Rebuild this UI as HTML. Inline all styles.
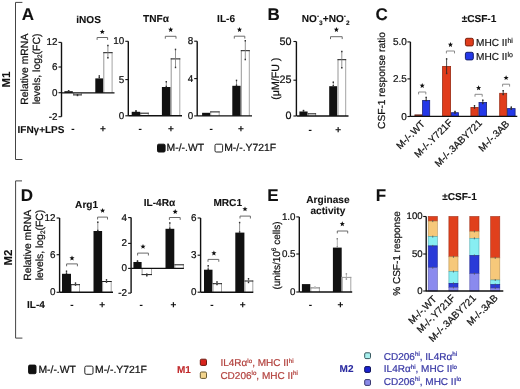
<!DOCTYPE html><html><head><meta charset="utf-8"><style>html,body{margin:0;padding:0;background:#fff;overflow:hidden}svg{display:block;text-rendering:geometricPrecision;filter:blur(0.3px)}</style></head><body>
<svg width="520" height="389" viewBox="0 0 520 389" font-family='"Liberation Sans", sans-serif'>
<rect width="520" height="389" fill="#fff"/>
<path d="M22.4 2.4 L15.5 2.4 L15.5 159.5 L22.4 159.5" fill="none" stroke="#444" stroke-width="1"/>
<path d="M22 180.9 L15.6 180.9 L15.6 338.1 L22.4 338.1" fill="none" stroke="#444" stroke-width="1"/>
<text x="10.0" y="79.5" font-size="11.5" font-weight="bold" text-anchor="middle" fill="#111" stroke="#111" stroke-width="0.1" transform="rotate(-90 10.0 79.5)">M1</text>
<text x="11.6" y="257.5" font-size="11.5" font-weight="bold" text-anchor="middle" fill="#111" stroke="#111" stroke-width="0.1" transform="rotate(-90 11.6 257.5)">M2</text>
<text x="21.7" y="20.0" font-size="17" font-weight="bold" text-anchor="start" fill="#111" stroke="#111" stroke-width="0.1">A</text>
<text x="267.6" y="19.8" font-size="17" font-weight="bold" text-anchor="start" fill="#111" stroke="#111" stroke-width="0.1">B</text>
<text x="375.5" y="20.0" font-size="17" font-weight="bold" text-anchor="start" fill="#111" stroke="#111" stroke-width="0.1">C</text>
<text x="20.8" y="201.2" font-size="17" font-weight="bold" text-anchor="start" fill="#111" stroke="#111" stroke-width="0.1">D</text>
<text x="267.2" y="201.0" font-size="17" font-weight="bold" text-anchor="start" fill="#111" stroke="#111" stroke-width="0.1">E</text>
<text x="375.8" y="201.0" font-size="17" font-weight="bold" text-anchor="start" fill="#111" stroke="#111" stroke-width="0.1">F</text>
<text x="28.2" y="69.2" font-size="10.4" font-weight="normal" text-anchor="middle" fill="#111" stroke="#111" stroke-width="0.22" transform="rotate(-90 28.2 69.2)">Relative mRNA</text>
<text x="40.2" y="68.9" font-size="10.4" font-weight="normal" text-anchor="middle" fill="#111" stroke="#111" stroke-width="0.22" transform="rotate(-90 40.2 68.9)">levels, log<tspan font-size="6.5" dy="2">2</tspan><tspan dy="-2">(FC)</tspan></text>
<text x="17.5" y="133.3" font-size="10" font-weight="bold" text-anchor="start" fill="#111" stroke="#111" stroke-width="0.1">IFN&#947;+LPS</text>
<text x="88.6" y="22.6" font-size="10.1" font-weight="bold" text-anchor="middle" fill="#111" stroke="#111" stroke-width="0.1">iNOS</text>
<line x1="61.5" y1="42.4" x2="61.5" y2="116.7" stroke="#111" stroke-width="1.4"/>
<line x1="58.5" y1="42.4" x2="61.5" y2="42.4" stroke="#111" stroke-width="1.1"/>
<text x="57.5" y="45.37" font-size="9.9" font-weight="normal" text-anchor="end" fill="#111" stroke="#111" stroke-width="0.22">12</text>
<line x1="58.5" y1="67" x2="61.5" y2="67" stroke="#111" stroke-width="1.1"/>
<text x="57.5" y="69.97" font-size="9.9" font-weight="normal" text-anchor="end" fill="#111" stroke="#111" stroke-width="0.22">6</text>
<line x1="58.5" y1="92.7" x2="61.5" y2="92.7" stroke="#111" stroke-width="1.1"/>
<text x="57.5" y="95.67" font-size="9.9" font-weight="normal" text-anchor="end" fill="#111" stroke="#111" stroke-width="0.22">0</text>
<line x1="58.5" y1="116.7" x2="61.5" y2="116.7" stroke="#111" stroke-width="1.1"/>
<text x="57.5" y="119.67" font-size="9.9" font-weight="normal" text-anchor="end" fill="#111" stroke="#111" stroke-width="0.22">-2</text>
<rect x="64.4" y="91.2" width="8.399999999999991" height="1.7000000000000028" fill="#111"/>
<rect x="73.2" y="92.9" width="8.599999999999994" height="2.5" fill="#fff"/>
<line x1="73.7" y1="92.9" x2="73.7" y2="95.4" stroke="#8a8a8a" stroke-width="0.9"/>
<line x1="81.3" y1="92.9" x2="81.3" y2="95.4" stroke="#9a9a9a" stroke-width="0.9"/>
<line x1="73.2" y1="94.9" x2="81.8" y2="94.9" stroke="#1a1a1a" stroke-width="1.0"/>
<rect x="95.3" y="78.4" width="8.0" height="14.5" fill="#111"/>
<rect x="103.3" y="52.2" width="9.299999999999997" height="40.7" fill="#fff"/>
<line x1="103.8" y1="52.2" x2="103.8" y2="92.9" stroke="#8a8a8a" stroke-width="0.9"/>
<line x1="112.1" y1="52.2" x2="112.1" y2="92.9" stroke="#9a9a9a" stroke-width="0.9"/>
<line x1="103.3" y1="52.7" x2="112.6" y2="52.7" stroke="#1a1a1a" stroke-width="1.0"/>
<line x1="61.5" y1="92.9" x2="114.5" y2="92.9" stroke="#111" stroke-width="1.4"/>
<line x1="99.3" y1="75.4" x2="99.3" y2="78.4" stroke="#777" stroke-width="0.8"/>
<line x1="99.3" y1="75.2" x2="99.3" y2="76.7" stroke="#333" stroke-width="1.4"/>
<line x1="99.3" y1="77.10000000000001" x2="99.3" y2="78.60000000000001" stroke="#333" stroke-width="1.4"/>
<line x1="107.9" y1="45" x2="107.9" y2="58.4" stroke="#777" stroke-width="0.8"/>
<line x1="107.9" y1="44.8" x2="107.9" y2="46.3" stroke="#333" stroke-width="1.4"/>
<line x1="107.9" y1="57.1" x2="107.9" y2="58.6" stroke="#333" stroke-width="1.4"/>
<line x1="68.6" y1="90.3" x2="68.6" y2="91.5" stroke="#777" stroke-width="0.8"/>
<line x1="68.6" y1="90.1" x2="68.6" y2="91.6" stroke="#333" stroke-width="1.4"/>
<line x1="68.6" y1="90.2" x2="68.6" y2="91.7" stroke="#333" stroke-width="1.4"/>
<line x1="77.5" y1="94.2" x2="77.5" y2="96.0" stroke="#777" stroke-width="0.8"/>
<line x1="77.5" y1="94.0" x2="77.5" y2="95.5" stroke="#333" stroke-width="1.4"/>
<line x1="77.5" y1="94.7" x2="77.5" y2="96.2" stroke="#333" stroke-width="1.4"/>
<path d="M97.1 39.9 L97.1 37.5 L107.6 37.5 L107.6 39.9" fill="none" stroke="#6a6a6a" stroke-width="1"/>
<polygon points="102.30,29.20 103.01,30.93 104.87,31.07 103.44,32.27 103.89,34.08 102.30,33.10 100.71,34.08 101.16,32.27 99.73,31.07 101.59,30.93" fill="#111"/>
<text x="72.8" y="131.5" font-size="10" font-weight="bold" text-anchor="middle" fill="#111" stroke="#111" stroke-width="0.1">-</text>
<text x="102.8" y="131.5" font-size="10" font-weight="bold" text-anchor="middle" fill="#111" stroke="#111" stroke-width="0.1">+</text>
<text x="156" y="21.9" font-size="10.1" font-weight="bold" text-anchor="middle" fill="#111" stroke="#111" stroke-width="0.1">TNF&#945;</text>
<line x1="128.3" y1="41.3" x2="128.3" y2="115.8" stroke="#111" stroke-width="1.4"/>
<line x1="125.30000000000001" y1="41.3" x2="128.3" y2="41.3" stroke="#111" stroke-width="1.1"/>
<text x="124.30000000000001" y="44.269999999999996" font-size="9.9" font-weight="normal" text-anchor="end" fill="#111" stroke="#111" stroke-width="0.22">10</text>
<line x1="125.30000000000001" y1="79.6" x2="128.3" y2="79.6" stroke="#111" stroke-width="1.1"/>
<text x="124.30000000000001" y="82.57" font-size="9.9" font-weight="normal" text-anchor="end" fill="#111" stroke="#111" stroke-width="0.22">5</text>
<line x1="125.30000000000001" y1="115.8" x2="128.3" y2="115.8" stroke="#111" stroke-width="1.1"/>
<text x="124.30000000000001" y="118.77" font-size="9.9" font-weight="normal" text-anchor="end" fill="#111" stroke="#111" stroke-width="0.22">0</text>
<rect x="131.7" y="111.8" width="8.5" height="4.0" fill="#111"/>
<rect x="140.2" y="112.7" width="8.600000000000023" height="3.0999999999999943" fill="#fff"/>
<line x1="140.7" y1="112.7" x2="140.7" y2="115.8" stroke="#8a8a8a" stroke-width="0.9"/>
<line x1="148.3" y1="112.7" x2="148.3" y2="115.8" stroke="#9a9a9a" stroke-width="0.9"/>
<line x1="140.2" y1="113.2" x2="148.8" y2="113.2" stroke="#1a1a1a" stroke-width="1.0"/>
<rect x="161.9" y="87" width="8.799999999999983" height="28.799999999999997" fill="#111"/>
<rect x="170.7" y="58.4" width="9.600000000000023" height="57.4" fill="#fff"/>
<line x1="171.2" y1="58.4" x2="171.2" y2="115.8" stroke="#8a8a8a" stroke-width="0.9"/>
<line x1="179.8" y1="58.4" x2="179.8" y2="115.8" stroke="#9a9a9a" stroke-width="0.9"/>
<line x1="170.7" y1="58.9" x2="180.3" y2="58.9" stroke="#1a1a1a" stroke-width="1.0"/>
<line x1="128.3" y1="115.8" x2="182" y2="115.8" stroke="#111" stroke-width="1.4"/>
<line x1="166.3" y1="81.2" x2="166.3" y2="87" stroke="#777" stroke-width="0.8"/>
<line x1="166.3" y1="81.0" x2="166.3" y2="82.5" stroke="#333" stroke-width="1.4"/>
<line x1="166.3" y1="85.7" x2="166.3" y2="87.2" stroke="#333" stroke-width="1.4"/>
<line x1="175.5" y1="48.9" x2="175.5" y2="68" stroke="#777" stroke-width="0.8"/>
<line x1="175.5" y1="48.699999999999996" x2="175.5" y2="50.199999999999996" stroke="#333" stroke-width="1.4"/>
<line x1="175.5" y1="66.7" x2="175.5" y2="68.2" stroke="#333" stroke-width="1.4"/>
<line x1="136" y1="110.5" x2="136" y2="111.8" stroke="#777" stroke-width="0.8"/>
<line x1="136" y1="110.3" x2="136" y2="111.8" stroke="#333" stroke-width="1.4"/>
<line x1="136" y1="110.5" x2="136" y2="112.0" stroke="#333" stroke-width="1.4"/>
<path d="M165.3 38.699999999999996 L165.3 36.3 L176 36.3 L176 38.699999999999996" fill="none" stroke="#6a6a6a" stroke-width="1"/>
<polygon points="170.70,27.00 171.41,28.73 173.27,28.87 171.84,30.07 172.29,31.88 170.70,30.90 169.11,31.88 169.56,30.07 168.13,28.87 169.99,28.73" fill="#111"/>
<text x="140.2" y="131.9" font-size="10" font-weight="bold" text-anchor="middle" fill="#111" stroke="#111" stroke-width="0.1">-</text>
<text x="171" y="131.9" font-size="10" font-weight="bold" text-anchor="middle" fill="#111" stroke="#111" stroke-width="0.1">+</text>
<text x="226.1" y="21.9" font-size="10.1" font-weight="bold" text-anchor="middle" fill="#111" stroke="#111" stroke-width="0.1">IL-6</text>
<line x1="197.2" y1="41.2" x2="197.2" y2="115.9" stroke="#111" stroke-width="1.4"/>
<line x1="194.2" y1="41.2" x2="197.2" y2="41.2" stroke="#111" stroke-width="1.1"/>
<text x="193.2" y="44.17" font-size="9.9" font-weight="normal" text-anchor="end" fill="#111" stroke="#111" stroke-width="0.22">8</text>
<line x1="194.2" y1="78.6" x2="197.2" y2="78.6" stroke="#111" stroke-width="1.1"/>
<text x="193.2" y="81.57" font-size="9.9" font-weight="normal" text-anchor="end" fill="#111" stroke="#111" stroke-width="0.22">4</text>
<line x1="194.2" y1="115.9" x2="197.2" y2="115.9" stroke="#111" stroke-width="1.1"/>
<text x="193.2" y="118.87" font-size="9.9" font-weight="normal" text-anchor="end" fill="#111" stroke="#111" stroke-width="0.22">0</text>
<rect x="202.1" y="112.8" width="8.099999999999994" height="3.1000000000000085" fill="#111"/>
<rect x="210.2" y="111.4" width="9.5" height="4.5" fill="#fff"/>
<line x1="210.7" y1="111.4" x2="210.7" y2="115.9" stroke="#8a8a8a" stroke-width="0.9"/>
<line x1="219.2" y1="111.4" x2="219.2" y2="115.9" stroke="#9a9a9a" stroke-width="0.9"/>
<line x1="210.2" y1="111.9" x2="219.7" y2="111.9" stroke="#1a1a1a" stroke-width="1.0"/>
<rect x="232.3" y="85.8" width="8.5" height="30.10000000000001" fill="#111"/>
<rect x="240.8" y="50.2" width="9.0" height="65.7" fill="#fff"/>
<line x1="241.3" y1="50.2" x2="241.3" y2="115.9" stroke="#8a8a8a" stroke-width="0.9"/>
<line x1="249.3" y1="50.2" x2="249.3" y2="115.9" stroke="#9a9a9a" stroke-width="0.9"/>
<line x1="240.8" y1="50.7" x2="249.8" y2="50.7" stroke="#1a1a1a" stroke-width="1.0"/>
<line x1="197.2" y1="115.9" x2="252" y2="115.9" stroke="#111" stroke-width="1.4"/>
<line x1="236.5" y1="79.9" x2="236.5" y2="85.8" stroke="#777" stroke-width="0.8"/>
<line x1="236.5" y1="79.7" x2="236.5" y2="81.2" stroke="#333" stroke-width="1.4"/>
<line x1="236.5" y1="84.5" x2="236.5" y2="86.0" stroke="#333" stroke-width="1.4"/>
<line x1="245.3" y1="40.3" x2="245.3" y2="60.1" stroke="#777" stroke-width="0.8"/>
<line x1="245.3" y1="40.099999999999994" x2="245.3" y2="41.599999999999994" stroke="#333" stroke-width="1.4"/>
<line x1="245.3" y1="58.800000000000004" x2="245.3" y2="60.300000000000004" stroke="#333" stroke-width="1.4"/>
<path d="M234.3 38.6 L234.3 36.2 L244.8 36.2 L244.8 38.6" fill="none" stroke="#6a6a6a" stroke-width="1"/>
<polygon points="239.50,27.00 240.21,28.73 242.07,28.87 240.64,30.07 241.09,31.88 239.50,30.90 237.91,31.88 238.36,30.07 236.93,28.87 238.79,28.73" fill="#111"/>
<text x="211.1" y="132.0" font-size="10" font-weight="bold" text-anchor="middle" fill="#111" stroke="#111" stroke-width="0.1">-</text>
<text x="240.8" y="132.0" font-size="10" font-weight="bold" text-anchor="middle" fill="#111" stroke="#111" stroke-width="0.1">+</text>
<rect x="157.5" y="144.2" width="7.6" height="7.8" fill="#111" stroke="#111" stroke-width="1" rx="1.2"/>
<text x="166.6" y="151.4" font-size="10.4" font-weight="normal" text-anchor="start" fill="#111" stroke="#111" stroke-width="0.22">M-/-.WT</text>
<rect x="215" y="144.2" width="7.6" height="7.8" fill="#fff" stroke="#222" stroke-width="1" rx="1.2"/>
<text x="224.2" y="151.4" font-size="10.4" font-weight="normal" text-anchor="start" fill="#111" stroke="#111" stroke-width="0.22">M-/-.Y721F</text>
<text x="325.7" y="21.9" font-size="10.1" font-weight="bold" text-anchor="middle" fill="#111" stroke="#111" stroke-width="0.1">NO<tspan font-size="6.5" dy="-3.5">-</tspan><tspan font-size="6.5" dy="6.5">3</tspan><tspan dy="-3">+NO</tspan><tspan font-size="6.5" dy="-3.5">-</tspan><tspan font-size="6.5" dy="6.5">2</tspan></text>
<text x="278.6" y="78.7" font-size="10.6" font-weight="normal" text-anchor="middle" fill="#111" stroke="#111" stroke-width="0.22" transform="rotate(-90 278.6 78.7)">(&#956;M/FU )</text>
<line x1="296.4" y1="41.5" x2="296.4" y2="116" stroke="#111" stroke-width="1.4"/>
<line x1="293.4" y1="41.5" x2="296.4" y2="41.5" stroke="#111" stroke-width="1.1"/>
<text x="291.4" y="44.74" font-size="10.8" font-weight="normal" text-anchor="end" fill="#111" stroke="#111" stroke-width="0.22">50</text>
<line x1="293.4" y1="80.2" x2="296.4" y2="80.2" stroke="#111" stroke-width="1.1"/>
<text x="291.4" y="83.44" font-size="10.8" font-weight="normal" text-anchor="end" fill="#111" stroke="#111" stroke-width="0.22">25</text>
<line x1="293.4" y1="116" x2="296.4" y2="116" stroke="#111" stroke-width="1.1"/>
<text x="291.4" y="119.24" font-size="10.8" font-weight="normal" text-anchor="end" fill="#111" stroke="#111" stroke-width="0.22">0</text>
<rect x="299.4" y="111.5" width="8.200000000000045" height="4.5" fill="#111"/>
<rect x="307.6" y="113.3" width="8.5" height="2.700000000000003" fill="#fff"/>
<line x1="308.1" y1="113.3" x2="308.1" y2="116" stroke="#8a8a8a" stroke-width="0.9"/>
<line x1="315.6" y1="113.3" x2="315.6" y2="116" stroke="#9a9a9a" stroke-width="0.9"/>
<line x1="307.6" y1="113.8" x2="316.1" y2="113.8" stroke="#1a1a1a" stroke-width="1.0"/>
<rect x="329.2" y="86.2" width="8.100000000000023" height="29.799999999999997" fill="#111"/>
<rect x="337.5" y="59.2" width="8.699999999999989" height="56.8" fill="#fff"/>
<line x1="338.0" y1="59.2" x2="338.0" y2="116" stroke="#8a8a8a" stroke-width="0.9"/>
<line x1="345.7" y1="59.2" x2="345.7" y2="116" stroke="#9a9a9a" stroke-width="0.9"/>
<line x1="337.5" y1="59.7" x2="346.2" y2="59.7" stroke="#1a1a1a" stroke-width="1.0"/>
<line x1="296.7" y1="116" x2="348.5" y2="116" stroke="#111" stroke-width="1.4"/>
<line x1="333.3" y1="81.7" x2="333.3" y2="86.2" stroke="#777" stroke-width="0.8"/>
<line x1="333.3" y1="81.5" x2="333.3" y2="83.0" stroke="#333" stroke-width="1.4"/>
<line x1="333.3" y1="84.9" x2="333.3" y2="86.4" stroke="#333" stroke-width="1.4"/>
<line x1="341.8" y1="51" x2="341.8" y2="68.2" stroke="#777" stroke-width="0.8"/>
<line x1="341.8" y1="50.8" x2="341.8" y2="52.3" stroke="#333" stroke-width="1.4"/>
<line x1="341.8" y1="66.9" x2="341.8" y2="68.4" stroke="#333" stroke-width="1.4"/>
<line x1="303.5" y1="110" x2="303.5" y2="111.5" stroke="#777" stroke-width="0.8"/>
<line x1="303.5" y1="109.8" x2="303.5" y2="111.3" stroke="#333" stroke-width="1.4"/>
<line x1="303.5" y1="110.2" x2="303.5" y2="111.7" stroke="#333" stroke-width="1.4"/>
<path d="M330.5 39.1 L330.5 36.7 L342.2 36.7 L342.2 39.1" fill="none" stroke="#6a6a6a" stroke-width="1"/>
<polygon points="336.40,27.00 337.11,28.73 338.97,28.87 337.54,30.07 337.99,31.88 336.40,30.90 334.81,31.88 335.26,30.07 333.83,28.87 335.69,28.73" fill="#111"/>
<text x="310.2" y="133.0" font-size="10" font-weight="bold" text-anchor="middle" fill="#111" stroke="#111" stroke-width="0.1">-</text>
<text x="338.2" y="133.0" font-size="10" font-weight="bold" text-anchor="middle" fill="#111" stroke="#111" stroke-width="0.1">+</text>
<text x="479" y="21.9" font-size="10.1" font-weight="bold" text-anchor="middle" fill="#111" stroke="#111" stroke-width="0.1">&#177;CSF-1</text>
<text x="384.8" y="80.5" font-size="10.2" font-weight="normal" text-anchor="middle" fill="#111" stroke="#111" stroke-width="0.22" transform="rotate(-90 384.8 80.5)">CSF-1 response ratio</text>
<line x1="410.4" y1="41.9" x2="410.4" y2="116.5" stroke="#111" stroke-width="1.4"/>
<line x1="407.4" y1="41.9" x2="410.4" y2="41.9" stroke="#111" stroke-width="1.1"/>
<text x="406.79999999999995" y="44.9" font-size="10" font-weight="normal" text-anchor="end" fill="#111" stroke="#111" stroke-width="0.22">5.0</text>
<line x1="407.4" y1="78.9" x2="410.4" y2="78.9" stroke="#111" stroke-width="1.1"/>
<text x="406.79999999999995" y="81.9" font-size="10" font-weight="normal" text-anchor="end" fill="#111" stroke="#111" stroke-width="0.22">2.5</text>
<line x1="407.4" y1="116.5" x2="410.4" y2="116.5" stroke="#111" stroke-width="1.1"/>
<text x="406.79999999999995" y="119.5" font-size="10" font-weight="normal" text-anchor="end" fill="#111" stroke="#111" stroke-width="0.22">0</text>
<rect x="414.9" y="114.9" width="6.899999999999989" height="1.5000000000000058" fill="#8a3020" stroke="#5a1a10" stroke-width="0.8"/>
<rect x="422.59999999999997" y="100.4" width="7.100000000000034" height="16.000000000000007" fill="#2438e8" stroke="#1a237a" stroke-width="0.8"/>
<rect x="442.59999999999997" y="66.4" width="8.00000000000001" height="50.00000000000001" fill="#e03c1c" stroke="#9a2a12" stroke-width="0.8"/>
<rect x="451.4" y="112.7" width="7.0000000000000115" height="3.7000000000000086" fill="#2438e8" stroke="#1a237a" stroke-width="0.8"/>
<rect x="470.9" y="107.4" width="7.300000000000023" height="9.000000000000005" fill="#e03c1c" stroke="#9a2a12" stroke-width="0.8"/>
<rect x="479.0" y="102.4" width="7.599999999999977" height="14.000000000000005" fill="#2438e8" stroke="#1a237a" stroke-width="0.8"/>
<rect x="499.7" y="93.30000000000001" width="7.0000000000000115" height="23.1" fill="#e03c1c" stroke="#9a2a12" stroke-width="0.8"/>
<rect x="507.5" y="108.60000000000001" width="7.599999999999977" height="7.8000000000000025" fill="#2438e8" stroke="#1a237a" stroke-width="0.8"/>
<line x1="410.2" y1="116.4" x2="517.3" y2="116.4" stroke="#111" stroke-width="1.4"/>
<line x1="426.2" y1="96.9" x2="426.2" y2="101" stroke="#222" stroke-width="0.8"/>
<line x1="426.2" y1="96.7" x2="426.2" y2="98.2" stroke="#333" stroke-width="1.4"/>
<line x1="426.2" y1="99.7" x2="426.2" y2="101.2" stroke="#333" stroke-width="1.4"/>
<line x1="446.6" y1="58.4" x2="446.6" y2="74" stroke="#222" stroke-width="0.8"/>
<line x1="446.6" y1="58.199999999999996" x2="446.6" y2="59.699999999999996" stroke="#333" stroke-width="1.4"/>
<line x1="446.6" y1="72.7" x2="446.6" y2="74.2" stroke="#333" stroke-width="1.4"/>
<line x1="503.2" y1="90.1" x2="503.2" y2="95" stroke="#222" stroke-width="0.8"/>
<line x1="503.2" y1="89.89999999999999" x2="503.2" y2="91.39999999999999" stroke="#333" stroke-width="1.4"/>
<line x1="503.2" y1="93.7" x2="503.2" y2="95.2" stroke="#333" stroke-width="1.4"/>
<line x1="482.8" y1="99.8" x2="482.8" y2="104" stroke="#222" stroke-width="0.8"/>
<line x1="482.8" y1="99.6" x2="482.8" y2="101.1" stroke="#333" stroke-width="1.4"/>
<line x1="482.8" y1="102.7" x2="482.8" y2="104.2" stroke="#333" stroke-width="1.4"/>
<line x1="474.5" y1="105.2" x2="474.5" y2="108.5" stroke="#222" stroke-width="0.8"/>
<line x1="474.5" y1="105.0" x2="474.5" y2="106.5" stroke="#333" stroke-width="1.4"/>
<line x1="474.5" y1="107.2" x2="474.5" y2="108.7" stroke="#333" stroke-width="1.4"/>
<line x1="455" y1="111" x2="455" y2="113.5" stroke="#222" stroke-width="0.8"/>
<line x1="455" y1="110.8" x2="455" y2="112.3" stroke="#333" stroke-width="1.4"/>
<line x1="455" y1="112.2" x2="455" y2="113.7" stroke="#333" stroke-width="1.4"/>
<line x1="511.3" y1="106.6" x2="511.3" y2="109.8" stroke="#222" stroke-width="0.8"/>
<line x1="511.3" y1="106.39999999999999" x2="511.3" y2="107.89999999999999" stroke="#333" stroke-width="1.4"/>
<line x1="511.3" y1="108.5" x2="511.3" y2="110.0" stroke="#333" stroke-width="1.4"/>
<path d="M418.6 94.4 L418.6 92 L425.8 92 L425.8 94.4" fill="none" stroke="#8a8a8a" stroke-width="1"/>
<polygon points="422.20,83.00 422.91,84.73 424.77,84.87 423.34,86.07 423.79,87.88 422.20,86.90 420.61,87.88 421.06,86.07 419.63,84.87 421.49,84.73" fill="#111"/>
<path d="M446.4 53.4 L446.4 51 L454.5 51 L454.5 53.4" fill="none" stroke="#8a8a8a" stroke-width="1"/>
<polygon points="450.45,42.00 451.16,43.73 453.02,43.87 451.59,45.07 452.04,46.88 450.45,45.90 448.86,46.88 449.31,45.07 447.88,43.87 449.74,43.73" fill="#111"/>
<path d="M475 96.7 L475 94.3 L482.2 94.3 L482.2 96.7" fill="none" stroke="#8a8a8a" stroke-width="1"/>
<polygon points="478.60,85.30 479.31,87.03 481.17,87.17 479.74,88.37 480.19,90.18 478.60,89.20 477.01,90.18 477.46,88.37 476.03,87.17 477.89,87.03" fill="#111"/>
<path d="M502.6 86.60000000000001 L502.6 84.2 L509.6 84.2 L509.6 86.60000000000001" fill="none" stroke="#8a8a8a" stroke-width="1"/>
<polygon points="506.10,75.20 506.81,76.93 508.67,77.07 507.24,78.27 507.69,80.08 506.10,79.10 504.51,80.08 504.96,78.27 503.53,77.07 505.39,76.93" fill="#111"/>
<rect x="465.4" y="38.3" width="7.9" height="7.6" fill="#e03c1c" stroke="#7a1e0c" stroke-width="1" rx="1.5"/>
<rect x="465.4" y="52.3" width="7.9" height="7.6" fill="#2438e8" stroke="#151f6a" stroke-width="1" rx="1.5"/>
<text x="476" y="45.9" font-size="10.1" font-weight="normal" text-anchor="start" fill="#222" stroke="#222" stroke-width="0.22">MHC II<tspan font-size="7" dy="-3.4">hi</tspan></text>
<text x="476" y="59.9" font-size="10.1" font-weight="normal" text-anchor="start" fill="#222" stroke="#222" stroke-width="0.22">MHC II<tspan font-size="7" dy="-3.4">lo</tspan></text>
<text x="425.5" y="124.6" font-size="9.9" font-weight="normal" text-anchor="end" fill="#111" stroke="#111" stroke-width="0.22" transform="rotate(-45 425.5 124.6)">M-/-.WT</text>
<text x="453.2" y="123.3" font-size="9.9" font-weight="normal" text-anchor="end" fill="#111" stroke="#111" stroke-width="0.22" transform="rotate(-45 453.2 123.3)">M-/-.Y721F</text>
<text x="482.6" y="123.6" font-size="9.9" font-weight="normal" text-anchor="end" fill="#111" stroke="#111" stroke-width="0.22" transform="rotate(-45 482.6 123.6)">M-/-.3ABY721</text>
<text x="510" y="124.6" font-size="9.9" font-weight="normal" text-anchor="end" fill="#111" stroke="#111" stroke-width="0.22" transform="rotate(-45 510 124.6)">M-/-.3AB</text>
<text x="30.6" y="245.3" font-size="10.4" font-weight="normal" text-anchor="middle" fill="#111" stroke="#111" stroke-width="0.22" transform="rotate(-90 30.6 245.3)">Relative mRNA</text>
<text x="42.6" y="245.0" font-size="10.4" font-weight="normal" text-anchor="middle" fill="#111" stroke="#111" stroke-width="0.22" transform="rotate(-90 42.6 245.0)">levels, log<tspan font-size="6.5" dy="2">2</tspan><tspan dy="-2">(FC)</tspan></text>
<text x="27.1" y="307.5" font-size="10" font-weight="bold" text-anchor="start" fill="#111" stroke="#111" stroke-width="0.1">IL-4</text>
<text x="86.6" y="207.5" font-size="10.1" font-weight="bold" text-anchor="middle" fill="#111" stroke="#111" stroke-width="0.1">Arg1</text>
<line x1="59.6" y1="218" x2="59.6" y2="292.3" stroke="#111" stroke-width="1.4"/>
<line x1="56.6" y1="218" x2="59.6" y2="218" stroke="#111" stroke-width="1.1"/>
<text x="55.6" y="220.97" font-size="9.9" font-weight="normal" text-anchor="end" fill="#111" stroke="#111" stroke-width="0.22">12</text>
<line x1="56.6" y1="254.7" x2="59.6" y2="254.7" stroke="#111" stroke-width="1.1"/>
<text x="55.6" y="257.67" font-size="9.9" font-weight="normal" text-anchor="end" fill="#111" stroke="#111" stroke-width="0.22">6</text>
<line x1="56.6" y1="292.3" x2="59.6" y2="292.3" stroke="#111" stroke-width="1.1"/>
<text x="55.6" y="295.27000000000004" font-size="9.9" font-weight="normal" text-anchor="end" fill="#111" stroke="#111" stroke-width="0.22">0</text>
<rect x="62" y="273.8" width="9" height="18.5" fill="#111"/>
<rect x="71" y="284.2" width="9" height="8.100000000000023" fill="#fff"/>
<line x1="71.5" y1="284.2" x2="71.5" y2="292.3" stroke="#8a8a8a" stroke-width="0.9"/>
<line x1="79.5" y1="284.2" x2="79.5" y2="292.3" stroke="#9a9a9a" stroke-width="0.9"/>
<line x1="71" y1="284.7" x2="80" y2="284.7" stroke="#1a1a1a" stroke-width="1.0"/>
<rect x="93.5" y="231" width="8.599999999999994" height="61.30000000000001" fill="#111"/>
<rect x="102.1" y="281" width="9.600000000000009" height="11.300000000000011" fill="#fff"/>
<line x1="102.6" y1="281" x2="102.6" y2="292.3" stroke="#8a8a8a" stroke-width="0.9"/>
<line x1="111.2" y1="281" x2="111.2" y2="292.3" stroke="#9a9a9a" stroke-width="0.9"/>
<line x1="102.1" y1="281.5" x2="111.7" y2="281.5" stroke="#1a1a1a" stroke-width="1.0"/>
<line x1="59.6" y1="292.3" x2="113" y2="292.3" stroke="#111" stroke-width="1.4"/>
<line x1="66.5" y1="270.7" x2="66.5" y2="273.8" stroke="#777" stroke-width="0.8"/>
<line x1="66.5" y1="270.5" x2="66.5" y2="272.0" stroke="#333" stroke-width="1.4"/>
<line x1="66.5" y1="272.5" x2="66.5" y2="274.0" stroke="#333" stroke-width="1.4"/>
<line x1="75.5" y1="282.6" x2="75.5" y2="285.6" stroke="#777" stroke-width="0.8"/>
<line x1="75.5" y1="282.40000000000003" x2="75.5" y2="283.90000000000003" stroke="#333" stroke-width="1.4"/>
<line x1="75.5" y1="284.3" x2="75.5" y2="285.8" stroke="#333" stroke-width="1.4"/>
<line x1="97.8" y1="221.6" x2="97.8" y2="231" stroke="#777" stroke-width="0.8"/>
<line x1="97.8" y1="221.4" x2="97.8" y2="222.9" stroke="#333" stroke-width="1.4"/>
<line x1="97.8" y1="229.7" x2="97.8" y2="231.2" stroke="#333" stroke-width="1.4"/>
<line x1="106.5" y1="279.3" x2="106.5" y2="282.7" stroke="#777" stroke-width="0.8"/>
<line x1="106.5" y1="279.1" x2="106.5" y2="280.6" stroke="#333" stroke-width="1.4"/>
<line x1="106.5" y1="281.4" x2="106.5" y2="282.9" stroke="#333" stroke-width="1.4"/>
<path d="M66.6 266.29999999999995 L66.6 263.9 L77.4 263.9 L77.4 266.29999999999995" fill="none" stroke="#6a6a6a" stroke-width="1"/>
<polygon points="72.00,255.50 72.71,257.23 74.57,257.37 73.14,258.57 73.59,260.38 72.00,259.40 70.41,260.38 70.86,258.57 69.43,257.37 71.29,257.23" fill="#111"/>
<path d="M97.6 219.5 L97.6 217.1 L107.5 217.1 L107.5 219.5" fill="none" stroke="#6a6a6a" stroke-width="1"/>
<polygon points="102.60,207.90 103.31,209.63 105.17,209.77 103.74,210.97 104.19,212.78 102.60,211.80 101.01,212.78 101.46,210.97 100.03,209.77 101.89,209.63" fill="#111"/>
<text x="72" y="308.2" font-size="10" font-weight="bold" text-anchor="middle" fill="#111" stroke="#111" stroke-width="0.1">-</text>
<text x="102.1" y="308.2" font-size="10" font-weight="bold" text-anchor="middle" fill="#111" stroke="#111" stroke-width="0.1">+</text>
<text x="159.5" y="206" font-size="10.1" font-weight="bold" text-anchor="middle" fill="#111" stroke="#111" stroke-width="0.1">IL-4R&#945;</text>
<line x1="131.1" y1="217.6" x2="131.1" y2="293.1" stroke="#111" stroke-width="1.4"/>
<line x1="128.1" y1="217.6" x2="131.1" y2="217.6" stroke="#111" stroke-width="1.1"/>
<text x="127.1" y="220.57" font-size="9.9" font-weight="normal" text-anchor="end" fill="#111" stroke="#111" stroke-width="0.22">4</text>
<line x1="128.1" y1="243.4" x2="131.1" y2="243.4" stroke="#111" stroke-width="1.1"/>
<text x="127.1" y="246.37" font-size="9.9" font-weight="normal" text-anchor="end" fill="#111" stroke="#111" stroke-width="0.22">2</text>
<line x1="128.1" y1="268.4" x2="131.1" y2="268.4" stroke="#111" stroke-width="1.1"/>
<text x="127.1" y="271.37" font-size="9.9" font-weight="normal" text-anchor="end" fill="#111" stroke="#111" stroke-width="0.22">0</text>
<line x1="128.1" y1="293.1" x2="131.1" y2="293.1" stroke="#111" stroke-width="1.1"/>
<text x="127.1" y="296.07000000000005" font-size="9.9" font-weight="normal" text-anchor="end" fill="#111" stroke="#111" stroke-width="0.22">-2</text>
<rect x="133.4" y="262" width="8.199999999999989" height="6.399999999999977" fill="#111"/>
<rect x="141.6" y="268.4" width="10.400000000000006" height="6.7000000000000455" fill="#fff"/>
<line x1="142.1" y1="268.4" x2="142.1" y2="275.1" stroke="#8a8a8a" stroke-width="0.9"/>
<line x1="151.5" y1="268.4" x2="151.5" y2="275.1" stroke="#9a9a9a" stroke-width="0.9"/>
<line x1="141.6" y1="274.6" x2="152" y2="274.6" stroke="#1a1a1a" stroke-width="1.0"/>
<rect x="165.5" y="228.8" width="8.800000000000011" height="39.599999999999966" fill="#111"/>
<rect x="174.3" y="264.3" width="9.599999999999994" height="4.099999999999966" fill="#fff"/>
<line x1="174.8" y1="264.3" x2="174.8" y2="268.4" stroke="#8a8a8a" stroke-width="0.9"/>
<line x1="183.4" y1="264.3" x2="183.4" y2="268.4" stroke="#9a9a9a" stroke-width="0.9"/>
<line x1="174.3" y1="264.8" x2="183.9" y2="264.8" stroke="#1a1a1a" stroke-width="1.0"/>
<line x1="131.1" y1="268.4" x2="183.9" y2="268.4" stroke="#111" stroke-width="1.4"/>
<line x1="137.5" y1="260.5" x2="137.5" y2="262" stroke="#777" stroke-width="0.8"/>
<line x1="137.5" y1="260.3" x2="137.5" y2="261.8" stroke="#333" stroke-width="1.4"/>
<line x1="137.5" y1="260.7" x2="137.5" y2="262.2" stroke="#333" stroke-width="1.4"/>
<line x1="146.8" y1="273.6" x2="146.8" y2="276.2" stroke="#777" stroke-width="0.8"/>
<line x1="146.8" y1="273.40000000000003" x2="146.8" y2="274.90000000000003" stroke="#333" stroke-width="1.4"/>
<line x1="146.8" y1="274.9" x2="146.8" y2="276.4" stroke="#333" stroke-width="1.4"/>
<line x1="169.8" y1="222.4" x2="169.8" y2="228.8" stroke="#777" stroke-width="0.8"/>
<line x1="169.8" y1="222.20000000000002" x2="169.8" y2="223.70000000000002" stroke="#333" stroke-width="1.4"/>
<line x1="169.8" y1="227.5" x2="169.8" y2="229.0" stroke="#333" stroke-width="1.4"/>
<path d="M137.6 255.5 L137.6 253.1 L148.4 253.1 L148.4 255.5" fill="none" stroke="#6a6a6a" stroke-width="1"/>
<polygon points="143.00,243.90 143.71,245.63 145.57,245.77 144.14,246.97 144.59,248.78 143.00,247.80 141.41,248.78 141.86,246.97 140.43,245.77 142.29,245.63" fill="#111"/>
<path d="M169.4 219.9 L169.4 217.5 L180.2 217.5 L180.2 219.9" fill="none" stroke="#6a6a6a" stroke-width="1"/>
<polygon points="175.20,209.10 175.91,210.83 177.77,210.97 176.34,212.17 176.79,213.98 175.20,213.00 173.61,213.98 174.06,212.17 172.63,210.97 174.49,210.83" fill="#111"/>
<text x="141.2" y="307.9" font-size="10" font-weight="bold" text-anchor="middle" fill="#111" stroke="#111" stroke-width="0.1">-</text>
<text x="173.4" y="307.9" font-size="10" font-weight="bold" text-anchor="middle" fill="#111" stroke="#111" stroke-width="0.1">+</text>
<text x="227.7" y="205.8" font-size="10.1" font-weight="bold" text-anchor="middle" fill="#111" stroke="#111" stroke-width="0.1">MRC1</text>
<line x1="200.6" y1="218" x2="200.6" y2="292.2" stroke="#111" stroke-width="1.4"/>
<line x1="197.6" y1="218" x2="200.6" y2="218" stroke="#111" stroke-width="1.1"/>
<text x="196.6" y="220.97" font-size="9.9" font-weight="normal" text-anchor="end" fill="#111" stroke="#111" stroke-width="0.22">6</text>
<line x1="197.6" y1="255.2" x2="200.6" y2="255.2" stroke="#111" stroke-width="1.1"/>
<text x="196.6" y="258.17" font-size="9.9" font-weight="normal" text-anchor="end" fill="#111" stroke="#111" stroke-width="0.22">3</text>
<line x1="197.6" y1="292.2" x2="200.6" y2="292.2" stroke="#111" stroke-width="1.1"/>
<text x="196.6" y="295.17" font-size="9.9" font-weight="normal" text-anchor="end" fill="#111" stroke="#111" stroke-width="0.22">0</text>
<rect x="204" y="269.7" width="8.5" height="22.5" fill="#111"/>
<rect x="212.5" y="283.2" width="9.5" height="9.0" fill="#fff"/>
<line x1="213.0" y1="283.2" x2="213.0" y2="292.2" stroke="#8a8a8a" stroke-width="0.9"/>
<line x1="221.5" y1="283.2" x2="221.5" y2="292.2" stroke="#9a9a9a" stroke-width="0.9"/>
<line x1="212.5" y1="283.7" x2="222" y2="283.7" stroke="#1a1a1a" stroke-width="1.0"/>
<rect x="235.3" y="232.6" width="9.099999999999994" height="59.599999999999994" fill="#111"/>
<rect x="244.4" y="280.5" width="8.900000000000006" height="11.699999999999989" fill="#fff"/>
<line x1="244.9" y1="280.5" x2="244.9" y2="292.2" stroke="#8a8a8a" stroke-width="0.9"/>
<line x1="252.8" y1="280.5" x2="252.8" y2="292.2" stroke="#9a9a9a" stroke-width="0.9"/>
<line x1="244.4" y1="281.0" x2="253.3" y2="281.0" stroke="#1a1a1a" stroke-width="1.0"/>
<line x1="200.6" y1="292.2" x2="253.3" y2="292.2" stroke="#111" stroke-width="1.4"/>
<line x1="208.2" y1="265.2" x2="208.2" y2="269.7" stroke="#777" stroke-width="0.8"/>
<line x1="208.2" y1="265.0" x2="208.2" y2="266.5" stroke="#333" stroke-width="1.4"/>
<line x1="208.2" y1="268.4" x2="208.2" y2="269.9" stroke="#333" stroke-width="1.4"/>
<line x1="217" y1="281.5" x2="217" y2="285" stroke="#777" stroke-width="0.8"/>
<line x1="217" y1="281.3" x2="217" y2="282.8" stroke="#333" stroke-width="1.4"/>
<line x1="217" y1="283.7" x2="217" y2="285.2" stroke="#333" stroke-width="1.4"/>
<line x1="239.6" y1="222" x2="239.6" y2="232.6" stroke="#777" stroke-width="0.8"/>
<line x1="239.6" y1="221.8" x2="239.6" y2="223.3" stroke="#333" stroke-width="1.4"/>
<line x1="239.6" y1="231.29999999999998" x2="239.6" y2="232.79999999999998" stroke="#333" stroke-width="1.4"/>
<line x1="248.5" y1="278.2" x2="248.5" y2="283" stroke="#777" stroke-width="0.8"/>
<line x1="248.5" y1="278.0" x2="248.5" y2="279.5" stroke="#333" stroke-width="1.4"/>
<line x1="248.5" y1="281.7" x2="248.5" y2="283.2" stroke="#333" stroke-width="1.4"/>
<path d="M208 261.79999999999995 L208 259.4 L218.8 259.4 L218.8 261.79999999999995" fill="none" stroke="#6a6a6a" stroke-width="1"/>
<polygon points="213.90,250.50 214.61,252.23 216.47,252.37 215.04,253.57 215.49,255.38 213.90,254.40 212.31,255.38 212.76,253.57 211.33,252.37 213.19,252.23" fill="#111"/>
<path d="M240 218.5 L240 216.1 L250.4 216.1 L250.4 218.5" fill="none" stroke="#6a6a6a" stroke-width="1"/>
<polygon points="245.00,206.40 245.71,208.13 247.57,208.27 246.14,209.47 246.59,211.28 245.00,210.30 243.41,211.28 243.86,209.47 242.43,208.27 244.29,208.13" fill="#111"/>
<text x="212" y="308.3" font-size="10" font-weight="bold" text-anchor="middle" fill="#111" stroke="#111" stroke-width="0.1">-</text>
<text x="242.7" y="308.3" font-size="10" font-weight="bold" text-anchor="middle" fill="#111" stroke="#111" stroke-width="0.1">+</text>
<text x="327.9" y="203.0" font-size="10.1" font-weight="bold" text-anchor="middle" fill="#111" stroke="#111" stroke-width="0.1">Arginase</text>
<text x="327.9" y="214.0" font-size="10.1" font-weight="bold" text-anchor="middle" fill="#111" stroke="#111" stroke-width="0.1">activity</text>
<text x="279.5" y="255.5" font-size="10" font-weight="normal" text-anchor="middle" fill="#111" stroke="#111" stroke-width="0.22" transform="rotate(-90 279.5 255.5)">(units/10<tspan font-size="6.5" dy="-3.5">6</tspan><tspan dy="3.5"> cells)</tspan></text>
<line x1="299.3" y1="216.9" x2="299.3" y2="292" stroke="#111" stroke-width="1.4"/>
<line x1="296.3" y1="216.9" x2="299.3" y2="216.9" stroke="#111" stroke-width="1.1"/>
<text x="295.5" y="219.84" font-size="9.8" font-weight="normal" text-anchor="end" fill="#111" stroke="#111" stroke-width="0.22">1.0</text>
<line x1="296.3" y1="254" x2="299.3" y2="254" stroke="#111" stroke-width="1.1"/>
<text x="295.5" y="256.94" font-size="9.8" font-weight="normal" text-anchor="end" fill="#111" stroke="#111" stroke-width="0.22">0.5</text>
<line x1="296.3" y1="292" x2="299.3" y2="292" stroke="#111" stroke-width="1.1"/>
<text x="295.5" y="294.94" font-size="9.8" font-weight="normal" text-anchor="end" fill="#111" stroke="#111" stroke-width="0.22">0</text>
<rect x="301.9" y="284.1" width="8.400000000000034" height="7.899999999999977" fill="#111"/>
<rect x="310.3" y="287.4" width="9.599999999999966" height="4.600000000000023" fill="#fff"/>
<line x1="310.8" y1="287.4" x2="310.8" y2="292" stroke="#8a8a8a" stroke-width="0.9"/>
<line x1="319.4" y1="287.4" x2="319.4" y2="292" stroke="#9a9a9a" stroke-width="0.9"/>
<line x1="310.3" y1="287.9" x2="319.9" y2="287.9" stroke="#777" stroke-width="1.0"/>
<rect x="332.9" y="247.6" width="8.800000000000011" height="44.400000000000006" fill="#111"/>
<rect x="341.7" y="276.9" width="9.600000000000023" height="15.100000000000023" fill="#fff"/>
<line x1="342.2" y1="276.9" x2="342.2" y2="292" stroke="#8a8a8a" stroke-width="0.9"/>
<line x1="350.8" y1="276.9" x2="350.8" y2="292" stroke="#9a9a9a" stroke-width="0.9"/>
<line x1="341.7" y1="277.4" x2="351.3" y2="277.4" stroke="#999" stroke-width="1.0"/>
<line x1="299.4" y1="292" x2="352.2" y2="292" stroke="#111" stroke-width="1.4"/>
<line x1="337.3" y1="238.2" x2="337.3" y2="247.6" stroke="#999" stroke-width="0.8"/>
<line x1="337.3" y1="238.0" x2="337.3" y2="239.5" stroke="#888" stroke-width="1.4"/>
<line x1="337.3" y1="246.29999999999998" x2="337.3" y2="247.79999999999998" stroke="#888" stroke-width="1.4"/>
<line x1="346.4" y1="273.3" x2="346.4" y2="279.6" stroke="#aaa" stroke-width="0.8"/>
<line x1="346.4" y1="273.1" x2="346.4" y2="274.6" stroke="#999" stroke-width="1.4"/>
<line x1="346.4" y1="278.3" x2="346.4" y2="279.8" stroke="#999" stroke-width="1.4"/>
<line x1="315" y1="286.4" x2="315" y2="288.4" stroke="#bbb" stroke-width="0.8"/>
<line x1="315" y1="286.2" x2="315" y2="287.7" stroke="#bbb" stroke-width="1.4"/>
<line x1="315" y1="287.09999999999997" x2="315" y2="288.59999999999997" stroke="#bbb" stroke-width="1.4"/>
<path d="M337.3 233.4 L337.3 231 L347.7 231 L347.7 233.4" fill="none" stroke="#6a6a6a" stroke-width="1"/>
<polygon points="342.30,221.30 343.01,223.03 344.87,223.17 343.44,224.37 343.89,226.18 342.30,225.20 340.71,226.18 341.16,224.37 339.73,223.17 341.59,223.03" fill="#111"/>
<text x="310.3" y="308.1" font-size="10" font-weight="bold" text-anchor="middle" fill="#111" stroke="#111" stroke-width="0.1">-</text>
<text x="340.5" y="308.1" font-size="10" font-weight="bold" text-anchor="middle" fill="#111" stroke="#111" stroke-width="0.1">+</text>
<text x="459.5" y="200.4" font-size="10.1" font-weight="bold" text-anchor="middle" fill="#111" stroke="#111" stroke-width="0.1">&#177;CSF-1</text>
<text x="400.2" y="253.5" font-size="10" font-weight="normal" text-anchor="middle" fill="#111" stroke="#111" stroke-width="0.22" transform="rotate(-90 400.2 253.5)">% CSF-1 response</text>
<line x1="426.2" y1="216.5" x2="426.2" y2="291" stroke="#111" stroke-width="1.4"/>
<line x1="423.2" y1="216.5" x2="426.2" y2="216.5" stroke="#111" stroke-width="1.1"/>
<text x="422.59999999999997" y="219.38" font-size="9.6" font-weight="normal" text-anchor="end" fill="#111" stroke="#111" stroke-width="0.22">100</text>
<line x1="423.2" y1="254" x2="426.2" y2="254" stroke="#111" stroke-width="1.1"/>
<text x="422.59999999999997" y="256.88" font-size="9.6" font-weight="normal" text-anchor="end" fill="#111" stroke="#111" stroke-width="0.22">50</text>
<line x1="423.2" y1="291" x2="426.2" y2="291" stroke="#111" stroke-width="1.1"/>
<text x="422.59999999999997" y="293.88" font-size="9.6" font-weight="normal" text-anchor="end" fill="#111" stroke="#111" stroke-width="0.22">0</text>
<rect x="428.2" y="216.5" width="9.100000000000023" height="4.599999999999994" fill="#e0401c" stroke="#a03018" stroke-width="0.6"/>
<rect x="428.2" y="221.1" width="9.100000000000023" height="15.5" fill="#f6c87a" stroke="#b89050" stroke-width="0.6"/>
<rect x="428.2" y="236.6" width="9.100000000000023" height="9.300000000000011" fill="#88eef2" stroke="#50a8b0" stroke-width="0.6"/>
<rect x="428.2" y="245.9" width="9.100000000000023" height="21.799999999999983" fill="#2a3ad8" stroke="#1a2490" stroke-width="0.6"/>
<rect x="428.2" y="267.7" width="9.100000000000023" height="23.30000000000001" fill="#8a8aee" stroke="#5a5ab0" stroke-width="0.6"/>
<line x1="432.75" y1="220.1" x2="432.75" y2="222.1" stroke="#555" stroke-width="0.8"/>
<line x1="432.75" y1="235.6" x2="432.75" y2="237.6" stroke="#555" stroke-width="0.8"/>
<line x1="432.75" y1="244.9" x2="432.75" y2="246.9" stroke="#555" stroke-width="0.8"/>
<line x1="432.75" y1="266.7" x2="432.75" y2="268.7" stroke="#555" stroke-width="0.8"/>
<rect x="448.9" y="216.5" width="9.100000000000023" height="40.30000000000001" fill="#e0401c" stroke="#a03018" stroke-width="0.6"/>
<rect x="448.9" y="256.8" width="9.100000000000023" height="14.699999999999989" fill="#f6c87a" stroke="#b89050" stroke-width="0.6"/>
<rect x="448.9" y="271.5" width="9.100000000000023" height="11.800000000000011" fill="#88eef2" stroke="#50a8b0" stroke-width="0.6"/>
<rect x="448.9" y="283.3" width="9.100000000000023" height="4.099999999999966" fill="#2a3ad8" stroke="#1a2490" stroke-width="0.6"/>
<rect x="448.9" y="287.4" width="9.100000000000023" height="3.6000000000000227" fill="#8a8aee" stroke="#5a5ab0" stroke-width="0.6"/>
<line x1="453.45" y1="255.8" x2="453.45" y2="257.8" stroke="#555" stroke-width="0.8"/>
<line x1="453.45" y1="270.5" x2="453.45" y2="272.5" stroke="#555" stroke-width="0.8"/>
<line x1="453.45" y1="282.3" x2="453.45" y2="284.3" stroke="#555" stroke-width="0.8"/>
<line x1="453.45" y1="286.4" x2="453.45" y2="288.4" stroke="#555" stroke-width="0.8"/>
<rect x="469.8" y="216.5" width="9.199999999999989" height="14.900000000000006" fill="#e0401c" stroke="#a03018" stroke-width="0.6"/>
<rect x="469.8" y="231.4" width="9.199999999999989" height="6.900000000000006" fill="#f6c87a" stroke="#b89050" stroke-width="0.6"/>
<rect x="469.8" y="238.3" width="9.199999999999989" height="17.19999999999999" fill="#88eef2" stroke="#50a8b0" stroke-width="0.6"/>
<rect x="469.8" y="255.5" width="9.199999999999989" height="18.19999999999999" fill="#2a3ad8" stroke="#1a2490" stroke-width="0.6"/>
<rect x="469.8" y="273.7" width="9.199999999999989" height="17.30000000000001" fill="#8a8aee" stroke="#5a5ab0" stroke-width="0.6"/>
<line x1="474.4" y1="230.4" x2="474.4" y2="232.4" stroke="#555" stroke-width="0.8"/>
<line x1="474.4" y1="237.3" x2="474.4" y2="239.3" stroke="#555" stroke-width="0.8"/>
<line x1="474.4" y1="254.5" x2="474.4" y2="256.5" stroke="#555" stroke-width="0.8"/>
<line x1="474.4" y1="272.7" x2="474.4" y2="274.7" stroke="#555" stroke-width="0.8"/>
<rect x="490.7" y="216.5" width="9.100000000000023" height="41.39999999999998" fill="#e0401c" stroke="#a03018" stroke-width="0.6"/>
<rect x="490.7" y="257.9" width="9.100000000000023" height="22.100000000000023" fill="#f6c87a" stroke="#b89050" stroke-width="0.6"/>
<rect x="490.7" y="280.0" width="9.100000000000023" height="4.600000000000023" fill="#88eef2" stroke="#50a8b0" stroke-width="0.6"/>
<rect x="490.7" y="284.6" width="9.100000000000023" height="3.5" fill="#2a3ad8" stroke="#1a2490" stroke-width="0.6"/>
<rect x="490.7" y="288.1" width="9.100000000000023" height="2.8999999999999773" fill="#8a8aee" stroke="#5a5ab0" stroke-width="0.6"/>
<line x1="495.25" y1="256.9" x2="495.25" y2="258.9" stroke="#555" stroke-width="0.8"/>
<line x1="495.25" y1="279.0" x2="495.25" y2="281.0" stroke="#555" stroke-width="0.8"/>
<line x1="495.25" y1="283.6" x2="495.25" y2="285.6" stroke="#555" stroke-width="0.8"/>
<line x1="495.25" y1="287.1" x2="495.25" y2="289.1" stroke="#555" stroke-width="0.8"/>
<line x1="425.8" y1="291" x2="503.3" y2="291" stroke="#111" stroke-width="1.4"/>
<text x="437.4" y="299.6" font-size="9.9" font-weight="normal" text-anchor="end" fill="#111" stroke="#111" stroke-width="0.22" transform="rotate(-45 437.4 299.6)">M-/-.WT</text>
<text x="455.8" y="298.7" font-size="9.9" font-weight="normal" text-anchor="end" fill="#111" stroke="#111" stroke-width="0.22" transform="rotate(-45 455.8 298.7)">M-/-.Y721F</text>
<text x="476.6" y="298.6" font-size="9.9" font-weight="normal" text-anchor="end" fill="#111" stroke="#111" stroke-width="0.22" transform="rotate(-45 476.6 298.6)">M-/-.3ABY721</text>
<text x="498.4" y="298.7" font-size="9.9" font-weight="normal" text-anchor="end" fill="#111" stroke="#111" stroke-width="0.22" transform="rotate(-45 498.4 298.7)">M-/-.3AB</text>
<rect x="28.6" y="365.1" width="7.4" height="8.6" fill="#111" stroke="#111" stroke-width="1" rx="1.2"/>
<text x="38.4" y="372.8" font-size="10.4" font-weight="normal" text-anchor="start" fill="#111" stroke="#111" stroke-width="0.22">M-/-.WT</text>
<rect x="84.8" y="366.1" width="8.2" height="8.2" fill="#fff" stroke="#222" stroke-width="1" rx="1.5"/>
<text x="95.0" y="372.8" font-size="10.4" font-weight="normal" text-anchor="start" fill="#111" stroke="#111" stroke-width="0.22">M-/-.Y721F</text>
<text x="177.0" y="372.5" font-size="10" font-weight="bold" text-anchor="start" fill="#c0282a" stroke="#c0282a" stroke-width="0.1">M1</text>
<rect x="200.3" y="359.2" width="6.2" height="6.2" fill="#d8241c" stroke="#6a1a10" stroke-width="1" rx="1.2"/>
<rect x="200.3" y="372.0" width="6.2" height="6.4" fill="#f3d58e" stroke="#6a5a30" stroke-width="1" rx="1.2"/>
<text x="220.4" y="366.3" font-size="10" font-weight="normal" text-anchor="start" fill="#b3433f" stroke="#b3433f" stroke-width="0.22">IL4R&#945;<tspan font-size="6.2" dy="-3.6">lo</tspan><tspan dy="3.6">, MHC II</tspan><tspan font-size="6.2" dy="-3.6">hi</tspan></text>
<text x="220.4" y="378.6" font-size="10" font-weight="normal" text-anchor="start" fill="#b3433f" stroke="#b3433f" stroke-width="0.22">CD206<tspan font-size="6.2" dy="-3.6">lo</tspan><tspan dy="3.6">, MHC II</tspan><tspan font-size="6.2" dy="-3.6">hi</tspan></text>
<text x="339.6" y="372.2" font-size="10" font-weight="bold" text-anchor="start" fill="#2a2aa0" stroke="#2a2aa0" stroke-width="0.1">M2</text>
<rect x="364.7" y="352.8" width="5.8" height="5.8" fill="#a8f0ee" stroke="#3a5a60" stroke-width="1" rx="1.2"/>
<rect x="364.7" y="366.6" width="5.8" height="5.8" fill="#1a22d0" stroke="#10145a" stroke-width="1" rx="1.2"/>
<rect x="364.7" y="379.6" width="5.8" height="5.8" fill="#8a8ae8" stroke="#3a3a70" stroke-width="1" rx="1.2"/>
<text x="383.8" y="360.0" font-size="10" font-weight="normal" text-anchor="start" fill="#3a3aa6" stroke="#3a3aa6" stroke-width="0.22">CD206<tspan font-size="6.2" dy="-3.6">hi</tspan><tspan dy="3.6">, IL4R&#945;</tspan><tspan font-size="6.2" dy="-3.6">hi</tspan></text>
<text x="383.8" y="372.4" font-size="10" font-weight="normal" text-anchor="start" fill="#3a3aa6" stroke="#3a3aa6" stroke-width="0.22">IL4R&#945;<tspan font-size="6.2" dy="-3.6">hi</tspan><tspan dy="3.6">, MHC II</tspan><tspan font-size="6.2" dy="-3.6">lo</tspan></text>
<text x="383.8" y="384.6" font-size="10" font-weight="normal" text-anchor="start" fill="#3a3aa6" stroke="#3a3aa6" stroke-width="0.22">CD206<tspan font-size="6.2" dy="-3.6">hi</tspan><tspan dy="3.6">, MHC II</tspan><tspan font-size="6.2" dy="-3.6">lo</tspan></text>
</svg></body></html>
